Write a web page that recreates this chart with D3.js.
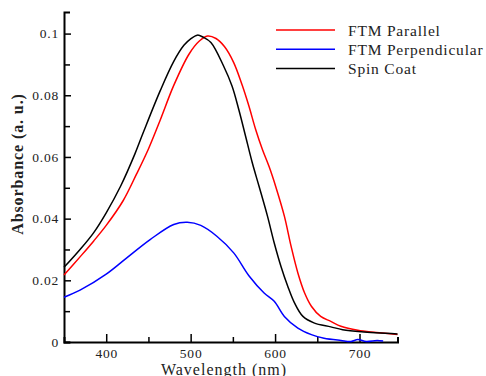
<!DOCTYPE html>
<html>
<head>
<meta charset="utf-8">
<script src="https://cdn.jsdelivr.net/npm/d3@7"></script>
<style>
  body { margin: 0; background: #fff; }
  svg { display: block; }
  svg text { font-family: "Liberation Serif", "Times New Roman", "DejaVu Serif", serif; }
</style>
</head>
<body>
<div id="chart"></div>
<script>
// wavelength (nm) / absorbance readings for each film
const parallelX = [350, 369, 385, 400, 420, 436, 450, 464, 480, 498, 510, 520, 530, 540, 551, 561, 569, 577, 585, 593, 601, 611, 619, 627, 635, 643, 654, 666, 678, 698, 720, 745];
const parallelY = [0.0217, 0.0276, 0.0327, 0.0378, 0.0458, 0.0545, 0.0626, 0.0720, 0.0832, 0.0933, 0.0975, 0.0992, 0.0984, 0.0958, 0.0906, 0.0833, 0.0765, 0.0689, 0.0624, 0.0568, 0.0502, 0.0408, 0.0310, 0.0224, 0.0159, 0.0116, 0.0083, 0.0067, 0.0051, 0.0038, 0.0031, 0.0024];

const perpX = [350, 369, 400, 424, 452, 480, 496, 512, 531, 551, 569, 587, 599, 611, 627, 643, 658, 678, 690, 698, 708, 721, 728];
const perpY = [0.0145, 0.0168, 0.0220, 0.0272, 0.0332, 0.0381, 0.0388, 0.0378, 0.0343, 0.0289, 0.0215, 0.0159, 0.0132, 0.0083, 0.0045, 0.0024, 0.0012, 0.0005, 0.0002, 0.0008, 0.0002, 0.0005, 0.0003];

const spinX = [350, 369, 385, 400, 417, 434, 444, 464, 480, 492, 500, 508, 515, 524, 539, 549, 557, 565, 573, 581, 591, 599, 607, 615, 623, 633, 646, 666, 680, 702, 745];
const spinY = [0.0242, 0.0300, 0.0354, 0.0419, 0.0505, 0.0610, 0.0680, 0.0815, 0.0910, 0.0962, 0.0983, 0.0995, 0.0988, 0.0971, 0.0895, 0.0830, 0.0754, 0.0668, 0.0581, 0.0505, 0.0408, 0.0321, 0.0245, 0.0181, 0.0127, 0.0083, 0.0062, 0.0049, 0.0040, 0.0033, 0.0026];

const seriesNames = ['FTM Parallel', 'FTM Perpendicular', 'Spin Coat'];
const seriesColors = ['#ff0000', '#0000ff', '#000000'];

const xMajor = [400, 500, 600, 700];
const xMinor = [450, 550, 650];
const yMajor = [0, 0.02, 0.04, 0.06, 0.08, 0.1];
const yMajorLabels = ['0', '0.02', '0.04', '0.06', '0.08', '0.1'];
const yMinor = [0.01, 0.03, 0.05, 0.07, 0.09];

const width = 486, height = 376;

const svg = d3.select('#chart').append('svg')
  .attr('width', width)
  .attr('height', height);

const x = d3.scaleLinear().domain([350, 745]).range([64, 397.5]);
const y = d3.scaleLinear().domain([0, 0.107]).range([342, 12]);

// axes: ticks point inward
const xAxis = svg.append('g')
  .attr('transform', 'translate(0,' + y(0) + ')')
  .call(d3.axisBottom(x).tickValues(xMajor).tickSize(-8).tickPadding(6).tickFormat(d3.format('d')));
xAxis.append('g')
  .call(d3.axisBottom(x).tickValues(xMinor).tickSize(-5).tickFormat(''));

const yAxis = svg.append('g')
  .attr('transform', 'translate(' + x(350) + ',0)')
  .call(d3.axisLeft(y).tickValues(yMajor).tickSize(-7).tickPadding(5).tickFormat((d, i) => yMajorLabels[i]));
yAxis.append('g')
  .call(d3.axisLeft(y).tickValues(yMinor).tickSize(-6).tickFormat(''));

xAxis.select('g .domain').remove();
yAxis.select('g .domain').remove();
svg.selectAll('.domain').attr('stroke', '#000').attr('stroke-width', 2);
svg.selectAll('.tick line').attr('stroke', '#000').attr('stroke-width', 1.5);
svg.selectAll('.tick text')
  .attr('font-family', null)
  .style('font-size', '13.5px')
  .style('letter-spacing', '0.8px')
  .attr('fill', '#222');

const line = d3.line()
  .x(d => x(d[0]))
  .y(d => y(d[1]))
  .curve(d3.curveCatmullRom.alpha(0.5));

const series = [
  d3.zip(parallelX, parallelY),
  d3.zip(perpX, perpY),
  d3.zip(spinX, spinY)
];

svg.selectAll('path.curve')
  .data(series)
  .enter()
  .append('path')
  .attr('class', 'curve')
  .attr('d', line)
  .attr('fill', 'none')
  .attr('stroke', (d, i) => seriesColors[i])
  .attr('stroke-width', 1.5);

// legend
const legend = svg.append('g');
seriesNames.forEach((name, i) => {
  const ly = 30 + i * 19.3;
  legend.append('line')
    .attr('x1', 276).attr('x2', 335)
    .attr('y1', ly).attr('y2', ly)
    .attr('stroke', seriesColors[i])
    .attr('stroke-width', 1.5);
  legend.append('text')
    .attr('x', 348).attr('y', ly + 5.5)
    .style('font-size', '15.5px')
    .style('letter-spacing', '0.8px')
    .attr('fill', '#222')
    .text(name);
});

// axis titles
svg.append('text')
  .attr('x', 224).attr('y', 375)
  .attr('text-anchor', 'middle')
  .style('font-size', '16px')
  .style('letter-spacing', '1px')
  .attr('fill', '#222')
  .text('Wavelength (nm)');

svg.append('text')
  .attr('transform', 'translate(23,164) rotate(-90)')
  .attr('text-anchor', 'middle')
  .style('font-size', '16px')
  .style('font-weight', 'bold')
  .style('letter-spacing', '0.9px')
  .attr('fill', '#222')
  .text('Absorbance (a. u.)');
</script>
</body>
</html>
